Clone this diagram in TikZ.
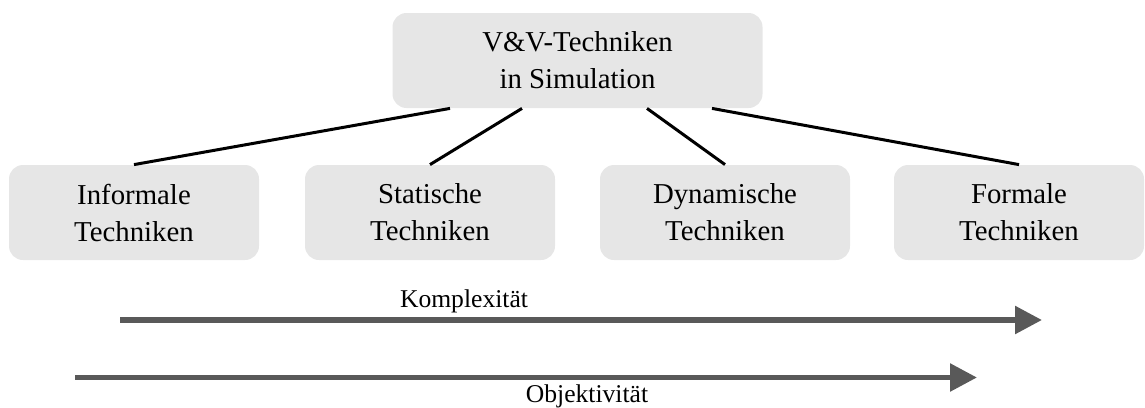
\documentclass[tikz,border=0pt]{standalone}
\usepackage{fontspec}
\setmainfont{Liberation Serif}
\usepackage{xcolor}
\usetikzlibrary{arrows.meta,positioning,calc}

\definecolor{boxgray}{HTML}{E6E6E6}
\definecolor{arrowgray}{HTML}{595959}

\tikzset{
  techbox/.style={fill=boxgray, rounded corners=7pt, inner sep=0pt,
    minimum width=125pt, minimum height=47.5pt, align=center,
    font=\fontsize{14.4}{18.5}\selectfont},
  rootbox/.style={techbox, minimum width=185pt},
  link/.style={black, line width=1.5pt},
  trend/.style={arrowgray, line width=2.8pt,
    -{Triangle[length=13.5pt,width=13.5pt]}},
  axislabel/.style={font=\fontsize{12.8}{15}\selectfont, inner sep=0pt, anchor=base}
}

\begin{document}
\begin{tikzpicture}[x=0.5pt,y=-0.5pt]

  \useasboundingbox (0,0) rectangle (1145,407);

  % ── root and the four families ─────────────────────────────────────
  \node[rootbox] (vv) at (577.5,60.5) {V\&V-Techniken\\in Simulation};

  \node[techbox] (inf) at (134,212.5)  {Informale\\Techniken};
  \node[techbox] (sta) at (430,212.5)  {Statische\\Techniken};
  \node[techbox] (dyn) at (725,212.5)  {Dynamische\\Techniken};
  \node[techbox] (frm) at (1019,212.5) {Formale\\Techniken};

  % ── connectors ─────────────────────────────────────────────────────
  \draw[link] (inf.north) -- ($(vv.south)+(-127.5,0)$);
  \draw[link] (sta.north) -- ($(vv.south)+(-55.5,0)$);
  \draw[link] (dyn.north) -- ($(vv.south)+(69.5,0)$);
  \draw[link] (frm.north) -- ($(vv.south)+(134.5,0)$);

  % ── the two trends ─────────────────────────────────────────────────
  \coordinate (k0) at (120,320);
  \coordinate (k1) at (1042,320);
  \draw[trend] (k0) -- (k1);
  \node[axislabel] (kx) at (464,307) {Komplexität};

  \coordinate (o0) at (75,377.5);
  \coordinate (o1) at (977,377.5);
  \draw[trend] (o0) -- (o1);
  \node[axislabel] (ob) at (587,402) {Objektivität};

\end{tikzpicture}
\end{document}
